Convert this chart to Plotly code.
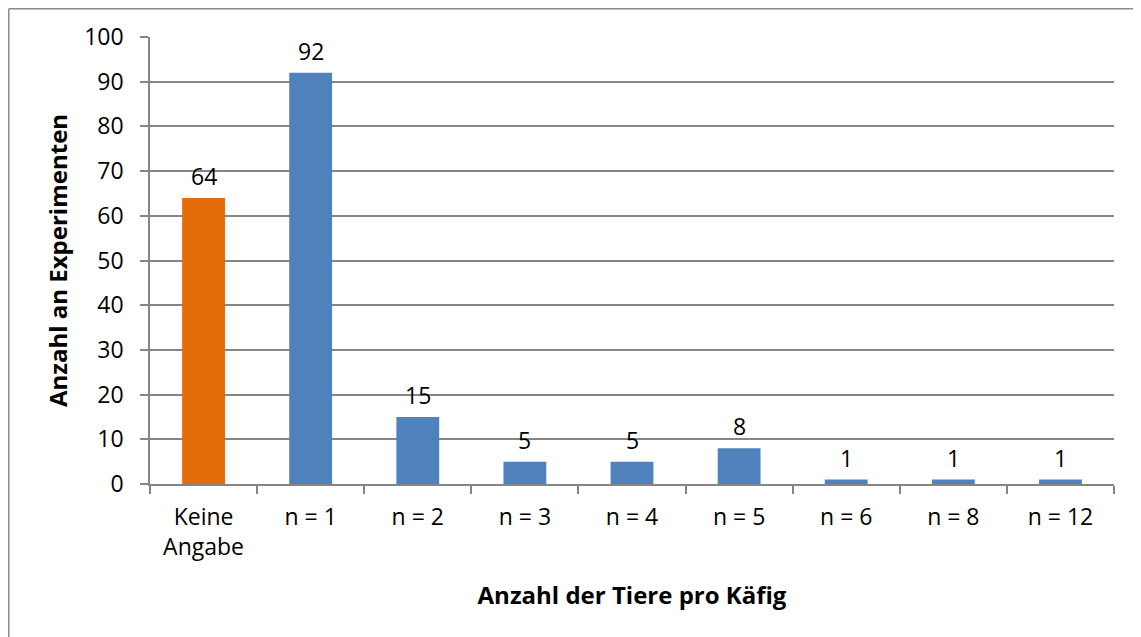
import plotly.graph_objects as go

categories = ["Keine<br>Angabe", "n = 1", "n = 2", "n = 3", "n = 4", "n = 5", "n = 6", "n = 8", "n = 12"]
values = [64, 92, 15, 5, 5, 8, 1, 1, 1]
colors = ["#E46C0A"] + ["#4F81BD"] * 8

FONT = "Open Sans"
GRAY = "#868686"

L, R, T, B = 142, 27, 29, 153
W, H = 1133, 629
pw = W - L - R
ph = H - T - B

fig = go.Figure(go.Bar(
    x=categories, y=values, marker_color=colors, marker_line_width=0,
    hoverinfo="x+y",
))

for c, v in zip(categories, values):
    fig.add_annotation(x=c, y=v, text=str(v), showarrow=False, yanchor="middle", yshift=22,
                       font=dict(family=FONT, size=23, color="black"))

fig.update_layout(
    width=W, height=H,
    margin=dict(l=L, r=R, t=T, b=B),
    paper_bgcolor="white", plot_bgcolor="white",
    bargap=0.6, showlegend=False,
    font=dict(family=FONT, size=23, color="black"),
    xaxis=dict(
        type="category", showline=True, linecolor=GRAY, linewidth=1.5,
        ticks="outside", tickson="boundaries", ticklen=8, tickcolor=GRAY, tickwidth=1.5,
        showgrid=False, tickfont=dict(family=FONT, size=23), ticklabelstandoff=12,
        title=dict(text="<b>Anzahl der Tiere pro Käfig</b>", font=dict(family=FONT, size=24), standoff=26),
    ),
    yaxis=dict(
        range=[0, 100], dtick=10, showline=True, linecolor=GRAY, linewidth=1.5,
        ticks="outside", ticklen=8, tickcolor=GRAY, tickwidth=1.5,
        showgrid=True, gridcolor=GRAY, gridwidth=1.5, zeroline=False,
        tickfont=dict(family=FONT, size=23), ticklabelstandoff=12,
        title=dict(text="<b>Anzahl an Experimenten</b>", font=dict(family=FONT, size=24), standoff=10),
    ),
)

# outer chart border (left and top edges of the chart area)
x_left = (-L + 0.75) / pw
y_top = 1 + (T - 0.75) / ph
fig.add_shape(type="line", xref="paper", yref="paper", x0=x_left, x1=x_left, y0=y_top, y1=-B / ph,
              line=dict(color="#8c8c8c", width=1.5))
fig.add_shape(type="line", xref="paper", yref="paper", x0=x_left, x1=1 + R / pw, y0=y_top, y1=y_top,
              line=dict(color="#8c8c8c", width=1.5))

fig.write_html("out.html")
